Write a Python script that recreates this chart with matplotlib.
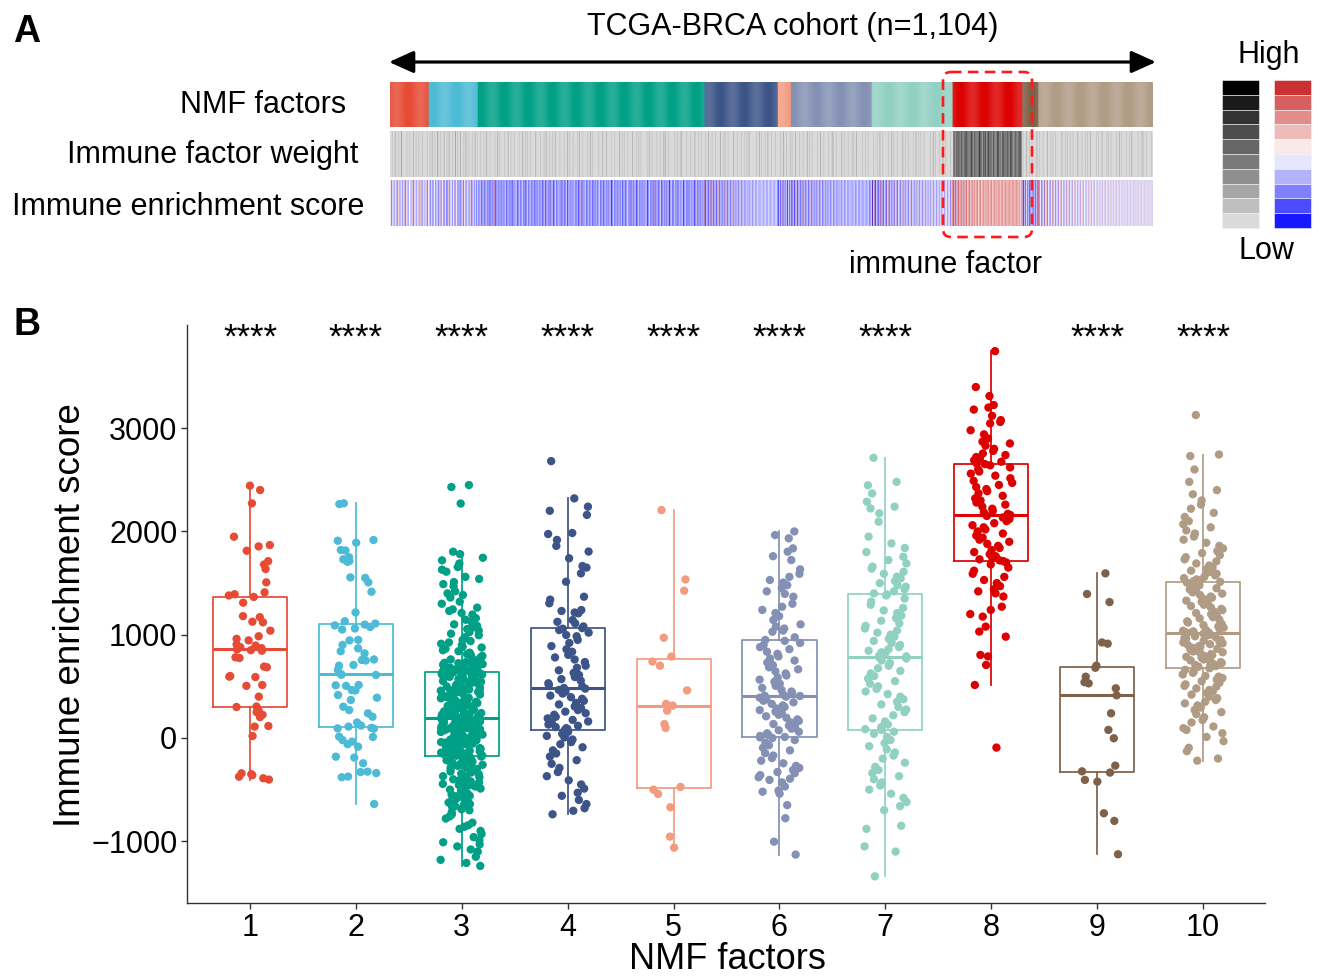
import numpy as np
import matplotlib
matplotlib.use('Agg')
import matplotlib.pyplot as plt
from matplotlib.colors import LinearSegmentedColormap, TwoSlopeNorm, to_rgb
from matplotlib.patches import Rectangle, FancyBboxPatch
from matplotlib.transforms import blended_transform_factory

plt.rcParams['font.family'] = ['Liberation Sans', 'DejaVu Sans']

# ---------------- data ----------------
factors = ['1', '2', '3', '4', '5', '6', '7', '8', '9', '10']
factor_colors = ['#E64B35', '#4DBBD5', '#00A087', '#3C5488', '#F39B7F',
                 '#8491B4', '#91D1C2', '#DC0000', '#7E6148', '#B09C85']
significance = ['****', '****', '****', '****', '****', '****', '****', '', '****', '****']
y_ticks = [-1000, 0, 1000, 2000, 3000]

# immune enrichment score per sample (sample order as in the heatmap)
score_f1 = [1380, 600, -342, 1120, 2272, 850, 203, 960, 1636, 513, -403, 1310, 1868, 691, 116, 880,
            1410, 305, 271, 1039, 2443, 775, -375, 945, 1712, 590, 19, 1170, 1392, 845, 250, 870,
            1949, 400, -350, 1366, 1507, 505, 300, 905, 1813, 685, 110, 1126, 2401, 781, -390, 985,
            1680, 858, 225, 895, 1855, 594, -360, 1180]
score_f2 = [1555, 464, -245, 1050, 1917, 206, 13, 868, 1130, 612, -374, 1098, 1750, 303, -60, 755,
            2272, 510, 93, 945, 1416, 120, -330, 1075, 1706, 390, -639, 700, 1891, 617, -181, 840,
            1216, 416, 10, 1108, 1815, 239, -84, 950, 1507, 505, -340, 760, 2265, 150, -20, 658,
            1730, 513, -380, 1090, 1910, 368, 90, 819, 1550, 610, -190, 901, 1820, 270, -326, 707,
            1715, 460, 98, 1060, 110, -35, 750]
score_f3 = [702, -310, 412, 12, 1245, -720, 588, -98, 655, -205, 236, 150, 938, -480, 470, -40,
            1560, -1050, 330, 88, 761, -260, 615, -165, 2449, -590, 205, 183, 690, -390, 523, -10,
            1085, -880, 377, 64, 812, -195, 451, -130,
            1400, -540, 290, 120, 646, -350, 560, -72, 975, -1239, 268, 30, 1690, -230, 635, 195,
            728, -660, 344, -150, 880, -420, 499, 45, 1130, -300, 221, -22, 640, -960, 402, 170,
            1320, -510, 577, -115, 795, -180, 312, 98,
            1804, -760, 438, -55, 668, -280, 255, 140, 1010, -445, 603, -172, 745, -610, 366, 5,
            1470, -1180, 487, 76, 900, -215, 199, -88, 2270, -370, 540, 160, 682, -820, 284, -30,
            1195, -500, 421, 110, 850, -250, 627, -142,
            1610, -690, 248, 52, 715, -400, 352, -64, 1055, -1100, 511, 188, 638, -325, 390, -5,
            1360, -565, 594, 132, 925, -240, 230, -120, 760, -930, 463, 20, 1780, -455, 325, -158,
            698, -200, 568, 92, 1160, -640, 274, -45,
            826, -345, 430, 175, 1510, -1010, 612, -80, 652, -270, 214, 38, 995, -580, 505, 126,
            1262, -410, 358, -100, 735, -780, 447, 68, 864, -225, 262, -15, 1655, -470, 583, 155,
            675, -1150, 301, -135, 1100, -290, 395, 84,
            780, -625, 530, -26, 1420, -360, 241, 190, 950, -845, 620, -60, 642, -520, 338, 104,
            1230, -185, 476, -170, 805, -700, 208, 25, 1745, -430, 552, 145, 710, -990, 384, -92,
            1040, -315, 296, 58, 888, -550, 442, -110,
            1540, -255, 600, 165, 661, -1080, 318, -35, 1300, -385, 492, 8, 770, -670, 226, 115,
            2430, -210, 571, -148, 690, -490, 372, 72, 1145, -900, 424, -68, 840, -335, 279, 180,
            1630, -600, 536, -2, 724, -1210, 407, 136,
            965, -265, 258, -125, 1385, -440, 630, 42, 650, -740, 349, 95, 1070, -190, 516, -50,
            912, -1030, 233, 162, 1490, -380, 458, -160, 752, -560, 306, 33, 1210, -295, 592, -84,
            637, -860, 202, 128, 1720, -460, 483, -18,
            876, -650, 362, 80, 1025, -220, 545, -105]
score_f4 = [2681, -739, 484, 478, 2320, -705, 500, 465, 2240, -680, 515, 450, 2200, -640, 530, 430,
            2160, -600, 555, 410, 1985, -560, 570, 395, 1975, -530, 590, 380, 1918, -490, 610, 360,
            1860, -450, 630, 340, 1805, -410, 655, 325, 1740, -370, 680, 305, 1665, -330, 700, 290,
            1650, -290, 735, 270, 1594, -250, 760, 255, 1513, -215, 780, 240, 1368, -180, 805, 225,
            1340, -150, 835, 205, 1304, -120, 860, 190, 1239, -90, 890, 175, 1230, -60, 920, 160,
            1215, -40, 950, 145, 1207, -15, 985, 130, 1142, 5, 997, 118, 1125, 20, 1020, 105,
            1110, 40, 1045, 95, 1080, 60, 1058, 85, 1064, 75]
score_f5 = [313, -1062, 1535, 135, -500, 740, 2207, -474, 264, 971, -671, 461, 788, 97, -955, 1426,
            330, -542, 700]
score_f6 = [2000, -1129, 410, 400, 1965, -1004, 420, 390, 1933, -777, 435, 375, 1836, -650, 450, 360,
            1804, -540, 465, 345, 1760, -520, 485, 330, 1723, -510, 505, 315, 1633, -470, 525, 300,
            1590, -430, 545, 285, 1560, -406, 565, 270, 1530, -395, 585, 255, 1505, -380, 605, 240,
            1480, -360, 625, 225, 1450, -341, 645, 210, 1420, -330, 665, 195, 1395, -310, 685, 180,
            1368, -290, 705, 165, 1300, -270, 730, 150, 1271, -245, 750, 135, 1240, -220, 770, 120,
            1210, -195, 790, 105, 1180, -170, 815, 90, 1142, -147, 835, 75, 1100, -120, 860, 60,
            1078, -95, 880, 45, 1060, -70, 900, 30, 1040, -45, 920, 20, 1029, -20, 940, 10,
            975, 0, 6, 407, 949]
score_f7 = [2713, -1340, 1380, 85, 2480, -1100, 1350, 105, 2447, -1050, 1320, 130, 2368, -880, 1290, 160,
            2288, -850, 1260, 190, 2240, -700, 1235, 220, 2223, -660, 1210, 250, 2175, -620, 1185, 275,
            2094, -580, 1160, 300, 1950, -540, 1135, 325, 1884, -500, 1110, 350, 1840, -460, 1085, 375,
            1800, -430, 1060, 400, 1755, -400, 1040, 425, 1723, -370, 1020, 450, 1690, -340, 1000, 475,
            1660, -310, 980, 500, 1640, -280, 960, 525, 1610, -240, 940, 550, 1590, -200, 920, 575,
            1562, -170, 900, 600, 1545, -140, 880, 625, 1520, -110, 860, 650, 1500, -80, 845, 675,
            1480, -50, 830, 700, 1465, -20, 815, 725, 1440, 10, 800, 750, 1420, 40, 790, 770,
            1400, 60, 77, 781, 1390]
score_f8 = [3746, -93, 2170, 2150, 3398, 513, 2185, 2135, 3311, 707, 2200, 2120, 3224, 790, 2220, 2100,
            3200, 804, 2240, 2080, 3180, 981, 2260, 2060, 3120, 1030, 2280, 2040, 3078, 1078, 2300, 2020,
            3060, 1175, 2320, 2000, 3046, 1200, 2345, 1980, 2980, 1240, 2370, 1960, 2940, 1271, 2390, 1940,
            2900, 1370, 2410, 1920, 2870, 1400, 2430, 1900, 2852, 1420, 2450, 1880, 2830, 1440, 2470, 1860,
            2800, 1470, 2490, 1840, 2780, 1500, 2515, 1820, 2755, 1530, 2540, 1800, 2740, 1560, 2560, 1780,
            2720, 1590, 2580, 1760, 2707, 1620, 2600, 1745, 2690, 1650, 2620, 1730, 2675, 1680, 2640, 1720,
            2659, 1700, 1713, 2159, 2652]
score_f9 = [413, -1126, 1394, 78, -423, 700, 1594, -323, 239, 913, -803, 529, -268, 1316, -3, 593,
            -335, 925, -729, 481, 680, -406, 540]
score_f10 = [3127, -220, 1022, 1018, 2745, -199, 1025, 1010, 2730, -128, 1028, 1002, 2600, -95, 1032, 994,
             2480, -31, 1038, 985, 2400, 10, 1045, 976, 2360, 46, 1056, 968, 2300, 78, 1068, 960,
             2260, 95, 1080, 951, 2220, 111, 1092, 942, 2180, 150, 1105, 934, 2140, 174, 1118, 925,
             2100, 200, 1130, 916, 2070, 230, 1145, 908, 2040, 250, 1158, 899, 2010, 271, 1170, 890,
             1980, 295, 1185, 882, 1950, 315, 1198, 873, 1920, 335, 1210, 864, 1890, 350, 1225, 856,
             1860, 368, 1238, 847, 1835, 385, 1250, 838, 1810, 400, 1265, 830, 1790, 420, 1278, 821,
             1770, 435, 1290, 812, 1750, 450, 1305, 804, 1730, 465, 1318, 795, 1710, 480, 1330, 786,
             1690, 497, 1345, 778, 1670, 505, 1358, 769, 1650, 520, 1370, 760, 1635, 535, 1385, 752,
             1620, 550, 1398, 743, 1605, 565, 1410, 734, 1590, 580, 1425, 726, 1575, 594, 1438, 717,
             1560, 600, 1450, 708, 1548, 615, 1465, 700, 1536, 630, 1478, 697, 1525, 645, 1490, 693,
             1518, 660, 1505, 690, 1512, 675]

# immune factor weight per sample, as grey level 0 (light) .. 9 (black)
weight_f1 = "0001000200 0010003000 0000100010 0002000100 0100001000 000100"
weight_f2 = "0100200010 0030001000 0200010020 0001000300 1000200001 0020001000 0100020001 0"
weight_f3 = ("0001000010 0020000100 0000100020 0100000010 0002000100 0010000001 0000200010 0100010000 "
             "0002000000 1000010020 0001000100 0200000010 0000100002 0010000100 0001002000 0100000010 "
             "0020010000 0000100001 1000020000 0010000100 0000200010 0100001000 0002000001 0010010000 "
             "0000100200 0100000010 0001000020 2000010000 0000100010 0010200000 0100000100 0002000010 "
             "00100001")
weight_f4 = "0010002000 0100001000 0002000010 1000100000 0020000100 0001000010 0100200000 0000010002 0010000100 0200001000 001000"
weight_f5 = "0001000200 010000100"
weight_f6 = "0100002000 0010000100 0002001000 1000000010 0020000100 0000100002 0100010000 0002000100 0010000010 1000200000 0001000100 0100000"
weight_f7 = "0010000100 0200010000 0001000020 0100001000 0000200010 0010000001 0002000100 1000010000 0000100020 0100000100 0020001000 0001000"
weight_f8 = "4352634725 3463524736 5342637452 4635243675 3524637425 4736352463 5243764352 3647253463 5274635243 6352473625 4"
weight_f9 = "0100002000 1000100000 020"
weight_f10 = ("0010000100 0002000010 0100010000 0000200001 0010001000 1000000200 0001000010 0100020000 "
              "0000100100 0020000001 0100010000 0001000200 1000000100 0010020000 0000100001 0200001000 000100")

gray_levels = ['#dadada', '#bfbfbf', '#a6a6a6', '#8f8f8f', '#7a7a7a',
               '#666666', '#4d4d4d', '#333333', '#1a1a1a', '#000000']

scores = [score_f1, score_f2, score_f3, score_f4, score_f5,
          score_f6, score_f7, score_f8, score_f9, score_f10]
weights = [weight_f1, weight_f2, weight_f3, weight_f4, weight_f5,
           weight_f6, weight_f7, weight_f8, weight_f9, weight_f10]

# ---------------- figure ----------------
W, H = 1320, 977
fig = plt.figure(figsize=(W / 100, H / 100), dpi=100)

ov = fig.add_axes([0, 0, 1, 1])
ov.axis('off')

score_cmap = LinearSegmentedColormap.from_list('score', ['#0000ff', '#ffffff', '#c81b1b'])
score_norm = TwoSlopeNorm(vmin=-1300, vcenter=1200, vmax=3800)

counts = [len(s) for s in scores]
N = sum(counts)
x0, x1 = 390, 1153
px = (x1 - x0) / N
starts = np.concatenate([[0], np.cumsum(counts)[:-1]])

# NMF factor row
nmf_rgb = np.array([[to_rgb(factor_colors[i]) for i in range(10) for _ in range(counts[i])]])
ov.imshow(nmf_rgb, extent=(x0, x1, 127, 82), aspect='auto', interpolation='antialiased')
# soft light banding seen in the rendered annotation bar
cols = np.arange(int(x1 - x0))
band_alpha = 0.16 * (0.5 + 0.5 * np.sin(2 * np.pi * cols / 24.0))
band = np.zeros((1, len(cols), 4))
band[..., :3] = 1.0
band[0, :, 3] = band_alpha
ov.imshow(band, extent=(x0, x1, 127, 82), aspect='auto', interpolation='bilinear')

# immune factor weight row
for i in range(10):
    levels = [int(ch) for ch in weights[i].replace(' ', '')]
    rgb = np.array([[to_rgb(gray_levels[l]) for l in levels]])
    gx0 = x0 + starts[i] * px
    gx1 = gx0 + counts[i] * px
    ov.imshow(rgb, extent=(gx0, gx1, 177, 131), aspect='auto', interpolation='antialiased')

# immune enrichment score row
all_scores = np.concatenate([np.asarray(s, float) for s in scores])
score_rgb = score_cmap(score_norm(all_scores))[None, :, :3]
ov.imshow(score_rgb, extent=(x0, x1, 226, 180), aspect='auto', interpolation='antialiased')

ov.set_xlim(0, W)
ov.set_ylim(H, 0)

# arrow and title
ov.annotate('', xy=(1156, 62), xytext=(389, 62),
            arrowprops=dict(arrowstyle='<|-|>,head_length=0.6,head_width=0.27', color='black',
                            lw=2.3, mutation_scale=25, shrinkA=0, shrinkB=0))
ov.text(793, 35, 'TCGA-BRCA cohort (n=1,104)', fontsize=22, ha='center', va='baseline')

# row labels
ov.text(346, 113, 'NMF factors', fontsize=22, ha='right', va='baseline')
ov.text(358, 163, 'Immune factor weight', fontsize=22, ha='right', va='baseline')
ov.text(364, 215, 'Immune enrichment score', fontsize=22, ha='right', va='baseline')

# dashed highlight box around immune factor
r = 8
box = FancyBboxPatch((943 + r, 72 + r), 1032 - 943 - 2 * r, 237 - 72 - 2 * r,
                     boxstyle=f'round,pad={r}', fill=False, edgecolor='#ff1a1a',
                     lw=1.9, linestyle=(0, (4, 2.4)))
ov.add_patch(box)
ov.text(946, 273, 'immune factor', fontsize=22, ha='center', va='baseline')

# legend columns
cell_h = (228 - 80) / 10
for k in range(10):
    y = 80 + k * cell_h
    ov.add_patch(Rectangle((1222, y), 37, cell_h, facecolor=gray_levels[9 - k],
                           edgecolor='#f4f4f4', lw=0.4))
    ov.add_patch(Rectangle((1274, y), 37, cell_h, facecolor=score_cmap((9 - k + 0.5) / 10),
                           edgecolor='#f4f4f4', lw=0.4))
ov.text(1269, 63, 'High', fontsize=22, ha='center', va='baseline')
ov.text(1266, 259, 'Low', fontsize=22, ha='center', va='baseline')

# panel letters and panel B axis titles
ov.text(13, 42, 'A', fontsize=27, fontweight='bold', ha='left', va='baseline')
ov.text(14, 335, 'B', fontsize=27, fontweight='bold', ha='left', va='baseline')
ov.text(80, 615, 'Immune enrichment score', fontsize=26.5, rotation=90, rotation_mode='anchor',
        ha='center', va='baseline')
ov.text(727, 969, 'NMF factors', fontsize=26, ha='center', va='baseline')

# ---------------- panel B ----------------
ax = fig.add_axes([187 / W, 1 - 903 / H, (1265 - 187) / W, (903 - 325) / H])
positions = np.arange(1, 11)

bp = ax.boxplot(scores, positions=positions, widths=0.7, whis=1.5, showfliers=False,
                showcaps=False, patch_artist=False)
for i, c in enumerate(factor_colors):
    bp['boxes'][i].set(color=c, linewidth=1.25)
    bp['medians'][i].set(color=c, linewidth=2.2)
    for w in bp['whiskers'][2 * i:2 * i + 2]:
        w.set(color=c, linewidth=1.25)

# deterministic horizontal jitter (quadratic Weyl sequence), width +/-0.2
for i, (vals, c) in enumerate(zip(scores, factor_colors)):
    j = np.arange(len(vals), dtype=float)
    frac = (j * j * 0.6180339887 + j * 0.4142135624 + 0.37 * i) % 1.0
    off = (frac - 0.5) * 0.4
    ax.scatter(positions[i] + off, vals, s=36, color=c, edgecolors='none', zorder=3)

tr = blended_transform_factory(ax.transData, ax.transAxes)
for i, s in enumerate(significance):
    if s:
        ax.text(positions[i], 0.961, s, transform=tr, ha='center', va='baseline', fontsize=25)

ax.set_xlim(0.405, 10.585)
ax.set_ylim(-1598, 3999)
ax.set_xticks(positions)
ax.set_xticklabels(factors)
ax.set_yticks(y_ticks)
for sp in ['top', 'right']:
    ax.spines[sp].set_visible(False)
for sp in ['left', 'bottom']:
    ax.spines[sp].set_color('#333333')
    ax.spines[sp].set_linewidth(1.0)
ax.tick_params(axis='both', labelsize=22, colors='#333333', labelcolor='black',
               length=4, width=1.0, pad=3.0)
ax.set_facecolor('none')

fig.savefig('out.png', dpi=100)
